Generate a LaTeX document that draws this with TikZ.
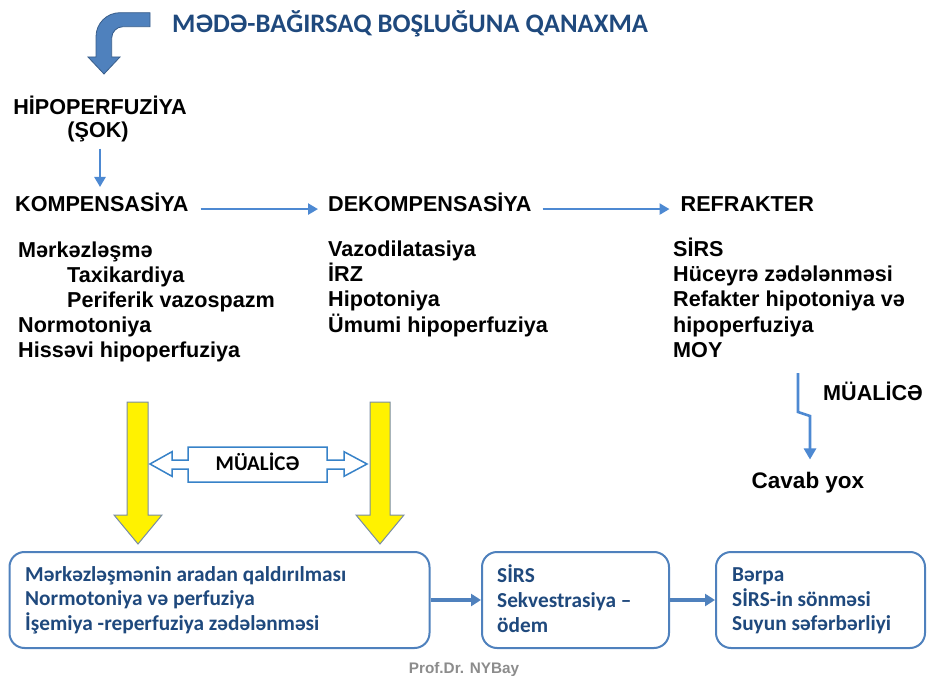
\documentclass[tikz,border=0pt]{standalone}
\usepackage{fontspec}
\setmainfont{Liberation Sans}
\newfontfamily\calfont{Carlito}
\usetikzlibrary{arrows.meta}
\definecolor{arrblue}{RGB}{77,137,210}
\definecolor{boxblue}{RGB}{79,129,189}
\definecolor{darkblue}{RGB}{31,73,125}
\definecolor{bentblue}{RGB}{79,129,189}
\definecolor{bentedge}{RGB}{56,93,138}
\definecolor{yellowedge}{RGB}{120,140,165}
\definecolor{dblue}{RGB}{55,130,200}
\definecolor{profgray}{RGB}{140,140,140}
\begin{document}
\begin{tikzpicture}[x=1pt,y=-1pt,
  bodytext/.style={font=\bfseries\fontsize{21.6}{25}\selectfont, inner sep=0, anchor=base west},
  boxtext/.style={font=\calfont\bfseries\fontsize{21.3}{25}\selectfont, text=darkblue, inner sep=0, anchor=base west},
  stagebox/.style={draw=boxblue, line width=2pt, rounded corners=15pt, fill=white, minimum height=96pt, inner sep=0},
  thinarrow/.style={draw=arrblue, line width=2.6pt, -{Triangle[length=10pt,width=11pt]}},
  boxarrow/.style={draw=boxblue, line width=3.5pt, -{Triangle[length=10pt,width=12pt]}},
  yellowarrow/.style={fill=yellow, draw=yellowedge, line width=1pt, line join=miter},
]
\useasboundingbox (0,0) rectangle (929,676);

% title and bent arrow
\node[anchor=base west, font=\calfont\bfseries\fontsize{26.7}{30}\selectfont, text=darkblue, inner sep=0] (title) at (172,33) {MƏDƏ-BAĞIRSAQ BOŞLUĞUNA QANAXMA};
\filldraw[draw=bentedge, fill=bentblue, line width=0.8pt, line join=miter]
  (150,12.7) -- (120,12.7) .. controls (106.7,12.7) and (96,23.4) .. (96,36.7)
  -- (96,57) -- (88,57) -- (104,74) -- (120,57) -- (111.7,57) -- (111.7,38)
  .. controls (111.7,31.8) and (116.8,26.7) .. (123,26.7) -- (150,26.7) -- cycle;

% stages
\node[bodytext, anchor=base] (hipo) at (100,115) {HİPOPERFUZİYA};
\node[bodytext, anchor=base] (sok) at (98,138) {(ŞOK)};
\node[bodytext] (komp) at (15,211.7) {KOMPENSASİYA};
\node[bodytext] (dekomp) at (328,211.7) {DEKOMPENSASİYA};
\node[bodytext] (refr) at (680.5,211.7) {REFRAKTER};

\draw[thinarrow, shorten <=6pt, shorten >=6pt] ([xshift=2pt]sok.south) -- ([xshift=2pt]sok.south |- komp.north);
\draw[thinarrow, shorten <=12pt, shorten >=10pt] (komp.mid east) -- (komp.mid east -| dekomp.west);
\draw[thinarrow, shorten <=11pt, shorten >=11pt] (dekomp.mid east) -- (dekomp.mid east -| refr.west);

% column 1
\node[bodytext] (c1a) at (18,257.5) {Mərkəzləşmə};
\node[bodytext] (c1b) at (67,282.5) {Taxikardiya};
\node[bodytext] (c1c) at (67,307.5) {Periferik vazospazm};
\node[bodytext] (c1d) at (18,332.5) {Normotoniya};
\node[bodytext] (c1e) at (18,357.5) {Hissəvi hipoperfuziya};
% column 2
\node[bodytext] (c2a) at (328,257) {Vazodilatasiya};
\node[bodytext] (c2b) at (328,282) {İRZ};
\node[bodytext] (c2c) at (328,307) {Hipotoniya};
\node[bodytext] (c2d) at (328,332) {Ümumi hipoperfuziya};
% column 3
\node[bodytext] (c3a) at (673,257) {SİRS};
\node[bodytext] (c3b) at (673,282) {Hüceyrə zədələnməsi};
\node[bodytext] (c3c) at (673,307) {Refakter hipotoniya və};
\node[bodytext] (c3d) at (673,332) {hipoperfuziya};
\node[bodytext] (c3e) at (673,357) {MOY};

% treatment on the right
\node[bodytext] (mua2) at (823,400) {MÜALİCƏ};
\node[bodytext, anchor=base, font=\bfseries\fontsize{22.5}{26}\selectfont] (cavab) at (808,488) {Cavab yox};
\coordinate (zz) at (798,373);
\draw[thinarrow, -{Triangle[length=11pt,width=12pt]}, shorten >=12pt] (zz) -- (798,412) -- (810,416) -- ([xshift=2pt]cavab.north);

% yellow arrows
\filldraw[yellowarrow] (127,402) -- (148,402) -- (148,515) -- (162,515) -- (138,544) -- (114,515) -- (127,515) -- cycle;
\filldraw[yellowarrow] (370,402) -- (390,402) -- (390,515) -- (404,515) -- (380,544) -- (356,515) -- (370,515) -- cycle;

% double arrow with MÜALİCƏ
\filldraw[draw=dblue, fill=white, line width=1.5pt, line join=miter]
  (150,464) -- (172,451.7) -- (172,460) -- (188,460) -- (188,447) -- (327,447) -- (327,460) -- (344,460) -- (344,451.7) -- (367,464)
  -- (344,476.3) -- (344,469) -- (327,469) -- (327,482) -- (188,482) -- (188,469) -- (172,469) -- (172,476.3) -- cycle;
\node[anchor=base, inner sep=0, font=\calfont\bfseries\fontsize{21}{25}\selectfont] (mua1) at (257.5,470.5) {MÜALİCƏ};

% bottom boxes
\node[stagebox, minimum width=420pt] (b1) at (219.5,600) {};
\node[stagebox, minimum width=187pt] (b2) at (575.5,600) {};
\node[stagebox, minimum width=209pt] (b3) at (820.5,600) {};
\draw[boxarrow] (b1.east) -- (b2.west);
\draw[boxarrow] (b2.east) -- (b3.west);

\node[boxtext] (t1a) at (25,581) {Mərkəzləşmənin aradan qaldırılması};
\node[boxtext] (t1b) at (25,605.5) {Normotoniya və perfuziya};
\node[boxtext] (t1c) at (25,630) {İşemiya -reperfuziya zədələnməsi};
\node[boxtext] (t2a) at (497,582) {SİRS};
\node[boxtext] (t2b) at (497,607) {Sekvestrasiya –};
\node[boxtext] (t2c) at (497,632) {ödem};
\node[boxtext] (t3a) at (732,581.5) {Bərpa};
\node[boxtext] (t3b) at (732,606) {SİRS-in sönməsi};
\node[boxtext] (t3c) at (732,630.5) {Suyun səfərbərliyi};

\node[anchor=base, inner sep=0, text=profgray, font=\bfseries\fontsize{15.3}{18}\selectfont] (prof) at (464,673) {Prof.Dr. NYBay};
\end{tikzpicture}
\end{document}
